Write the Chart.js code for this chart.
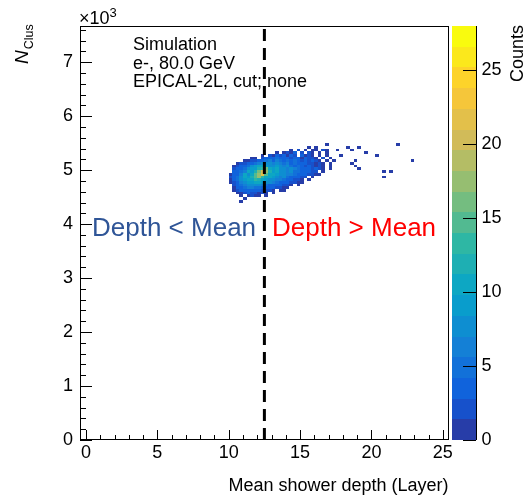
<!DOCTYPE html>
<html>
<head>
<meta charset="utf-8">
<script src="https://cdn.jsdelivr.net/npm/chart.js@4.4.1/dist/chart.umd.min.js"></script>
<style>
  body { margin: 0; background: #fff; }
  canvas { display: block; }
</style>
</head>
<body>
<canvas id="chart" width="530" height="497"></canvas>
<script>
// bin grid of the 2D histogram (x in layers, y in units of 10^3 clusters)
const binXStart = 10;
const binXWidth = 0.25;
const binYTop = 5.5;
const binYHeight = 0.05;

// counts per bin, one entry per row from the top row down.
// each row is a list of [first column, counts]; counts are base-36 digits, "." = empty bin
const heatRows = [
  [[27, "1"], [47, "1"]],
  [[22, "1.1"], [33, "1..1"]],
  [[17, "1.2.1.11.21"], [30, "1...1"]],
  [[13, "1.1213.2.21.1.1"], [38, "1"]],
  [[9, "1.21323132.3121.1.1"], [31, "1"], [41, "1"]],
  [[6, "11.2343543424313221.2.1"]],
  [[4, "1122345646545354232321.1.1"], [35, "1"], [51, "1"]],
  [[2, "1223456878676564533422121.1"], [34, "1"]],
  [[1, "1234579ab98897675453232121.1"], [35, "1"]],
  [[1, "2345799cdgb9a8767654342321.1"], [36, "1"]],
  [[1, "3456a9cgkhc9a87675543322.1"], [43, "1.1"]],
  [[0, "1346a8bfimfba9886654432211"]],
  [[0, "2357a9cehdba9767543322.1"], [43, "1"]],
  [[0, "13579abdcb98766543221.1"]],
  [[0, "1246899ba987654432211"]],
  [[1, "24568787654433221.1"]],
  [[1, "1345665544332211"]],
  [[1, "123443432221.11"]],
  [[2, "112322121.1"]],
  [[3, "1.1211.1"]],
  [[4, "1"]],
  [[3, "1"]]
];

const meanDepth = 12.5;
const infoLines = ["Simulation", "e-, 80.0 GeV", "EPICAL-2L, cut; none"];
const countsMax = 28;
const countLevels = 20;
const countTicks = [0, 5, 10, 15, 20, 25];

const FONT = "'Liberation Sans', Arial, sans-serif";

// ROOT kBird palette
const birdStops = [0.0, 0.125, 0.25, 0.375, 0.5, 0.625, 0.75, 0.875, 1.0];
const birdR = [0.2082, 0.0592, 0.078, 0.0232, 0.1802, 0.5301, 0.8186, 0.9956, 0.9764];
const birdG = [0.1664, 0.3599, 0.5041, 0.6419, 0.7178, 0.7492, 0.7328, 0.7862, 0.9832];
const birdB = [0.5293, 0.8684, 0.8385, 0.7914, 0.6425, 0.4662, 0.3499, 0.1968, 0.0539];

function birdColor(f) {
  let i = 0;
  while (i < birdStops.length - 2 && f > birdStops[i + 1]) i++;
  const t = (f - birdStops[i]) / (birdStops[i + 1] - birdStops[i]);
  const mix = (a) => Math.round(255 * (a[i] + (a[i + 1] - a[i]) * t));
  return `rgb(${mix(birdR)},${mix(birdG)},${mix(birdB)})`;
}

function bandColor(i) {
  const idx = Math.floor((i + 0.99) * 255 / countLevels);
  return birdColor(idx / 254);
}

function countColor(v) {
  const band = Math.min(countLevels - 1, Math.floor(v / (countsMax / countLevels)));
  return bandColor(band);
}

// no edge padding from tick labels, the frame is fixed by afterFit
function fixSize(prop, size) {
  return (s) => {
    s[prop] = size;
    s.paddingTop = s.paddingBottom = s.paddingLeft = s.paddingRight = 0;
  };
}

const rootPlugin = {
  id: "rootStyle",
  beforeDatasetsDraw(chart) {
    const { ctx, scales: { x, y } } = chart;
    ctx.save();
    heatRows.forEach((row, r) => {
      const yHi = binYTop - r * binYHeight;
      const py0 = Math.round(y.getPixelForValue(yHi));
      const py1 = Math.round(y.getPixelForValue(yHi - binYHeight));
      row.forEach(([start, counts]) => {
        for (let k = 0; k < counts.length; k++) {
          if (counts[k] === ".") continue;
          const c = start + k;
          const px0 = Math.round(x.getPixelForValue(binXStart + c * binXWidth));
          const px1 = Math.round(x.getPixelForValue(binXStart + (c + 1) * binXWidth));
          ctx.fillStyle = countColor(parseInt(counts[k], 36));
          ctx.fillRect(px0, py0, px1 - px0, py1 - py0);
        }
      });
    });
    ctx.restore();
  },
  afterDraw(chart) {
    const { ctx, chartArea: a, scales: { x, y, z } } = chart;
    ctx.save();
    ctx.strokeStyle = "#000";
    ctx.lineWidth = 1;

    // frame
    ctx.strokeRect(Math.round(a.left) + 0.5, Math.round(a.top) + 0.5,
      Math.round(a.right - a.left) - 1, Math.round(a.bottom - a.top) - 1);

    // inner tick marks
    ctx.beginPath();
    for (let k = 0; k * 0.2 <= y.max; k++) {
      const py = Math.round(y.getPixelForValue(k * 0.2)) + 0.5;
      const len = k % 5 === 0 ? 12 : 6;
      ctx.moveTo(a.left, py);
      ctx.lineTo(a.left + len, py);
    }
    for (let k = 0; k <= 25; k++) {
      const px = Math.round(x.getPixelForValue(k)) + 0.5;
      const len = k % 5 === 0 ? 10 : 5;
      ctx.moveTo(px, a.bottom);
      ctx.lineTo(px, a.bottom - len);
    }
    ctx.stroke();

    // colour bar
    const barL = Math.round(a.right) + 3;
    const barR = barL + 24;
    const step = countsMax / countLevels;
    for (let i = 0; i < countLevels; i++) {
      const p0 = Math.round(z.getPixelForValue(i * step));
      const p1 = Math.round(z.getPixelForValue((i + 1) * step));
      ctx.fillStyle = bandColor(i);
      ctx.fillRect(barL, p1, barR - barL, p0 - p1);
    }
    ctx.beginPath();
    ctx.moveTo(barR + 0.5, a.top);
    ctx.lineTo(barR + 0.5, a.bottom);
    countTicks.forEach((t) => {
      const py = Math.round(z.getPixelForValue(t)) + 0.5;
      ctx.moveTo(barR, py);
      ctx.lineTo(barR - 13, py);
    });
    ctx.stroke();

    // texts
    ctx.fillStyle = "#000";
    ctx.textBaseline = "alphabetic";
    ctx.font = `18px ${FONT}`;
    ctx.textAlign = "left";
    infoLines.forEach((t, i) => ctx.fillText(t, 133, 50 + i * 18.5));

    ctx.textAlign = "right";
    ctx.fillText("Mean shower depth (Layer)", a.right, 491);

    ctx.textAlign = "left";
    ctx.font = `18px ${FONT}`;
    ctx.fillText("\u00d710", 79, 24);
    const w10 = ctx.measureText("\u00d710").width;
    ctx.font = `13px ${FONT}`;
    ctx.fillText("3", 79 + w10, 17);

    ctx.font = `26px ${FONT}`;
    ctx.fillStyle = "#2f5597";
    ctx.fillText("Depth < Mean", 92, 236);
    ctx.fillStyle = "#ff0000";
    ctx.fillText("Depth > Mean", 272, 236);

    // rotated titles
    ctx.fillStyle = "#000";
    ctx.save();
    ctx.translate(27.5, 64);
    ctx.rotate(-Math.PI / 2);
    ctx.font = `italic 19px ${FONT}`;
    ctx.fillText("N", 0, 0);
    const wN = ctx.measureText("N").width;
    ctx.font = `12.5px ${FONT}`;
    ctx.fillText("Clus", wN + 1, 5.5);
    ctx.restore();

    ctx.save();
    ctx.translate(523, 25);
    ctx.rotate(-Math.PI / 2);
    ctx.font = `18px ${FONT}`;
    ctx.textAlign = "right";
    ctx.fillText("Counts", 0, 0);
    ctx.restore();

    ctx.restore();
  }
};

const tickFont = { family: FONT, size: 18 };

new Chart(document.getElementById("chart"), {
  type: "scatter",
  data: {
    datasets: [
      {
        type: "line",
        data: [{ x: meanDepth, y: 0 }, { x: meanDepth, y: 7.67 }],
        borderColor: "#000",
        borderWidth: 3,
        borderDash: [12, 7],
        pointRadius: 0,
        xAxisID: "x",
        yAxisID: "y"
      }
    ]
  },
  options: {
    responsive: false,
    animation: false,
    layout: { padding: { top: 26, left: 0, right: 0, bottom: 0 } },
    plugins: { legend: { display: false }, tooltip: { enabled: false } },
    scales: {
      x: {
        type: "linear",
        min: -0.42,
        max: 25.4,
        afterFit: fixSize("height", 57),
        grid: { display: false, drawTicks: false },
        border: { display: false },
        ticks: { stepSize: 5, includeBounds: false, padding: 2, color: "#000", font: tickFont, maxRotation: 0 }
      },
      y: {
        type: "linear",
        min: 0,
        max: 7.67,
        afterFit: fixSize("width", 80),
        grid: { display: false, drawTicks: false },
        border: { display: false },
        ticks: { stepSize: 1, includeBounds: false, padding: 7, color: "#000", font: tickFont }
      },
      z: {
        type: "linear",
        position: "right",
        min: 0,
        max: countsMax,
        afterFit: fixSize("width", 81.5),
        grid: { display: false, drawTicks: false },
        border: { display: false },
        ticks: { stepSize: 5, includeBounds: false, padding: 33, color: "#000", font: tickFont }
      }
    }
  },
  plugins: [rootPlugin]
});
</script>
</body>
</html>
